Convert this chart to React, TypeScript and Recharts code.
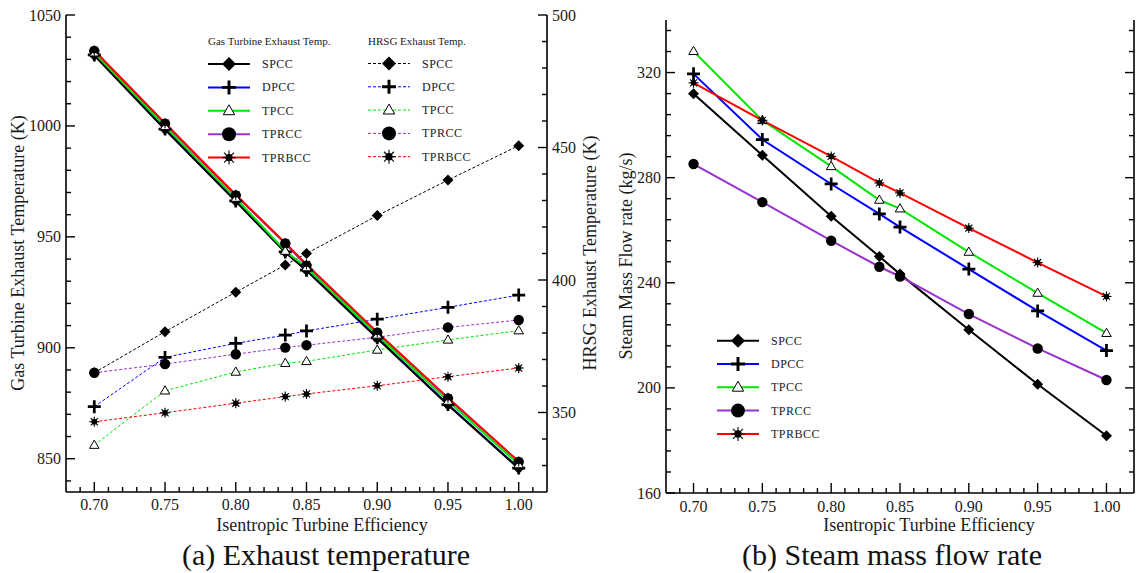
import React from "react";
import { LineChart, Line, XAxis, YAxis, Legend } from "recharts";

// x values (isentropic turbine efficiency)
const efficiency = [0.7, 0.75, 0.8, 0.835, 0.85, 0.9, 0.95, 1.0];

const cycles = ["SPCC", "DPCC", "TPCC", "TPRCC", "TPRBCC"];
const cycleColors = ["#000000", "#0000ff", "#00e600", "#9932cc", "#ff0000"];
const cycleMarkers = ["diamond", "plus", "triangle", "circle", "star"];

// (a) gas turbine exhaust temperature, K (left axis)
const gtSPCC = [1031.8, 998.4, 966.0, 943.0, 934.8, 904.3, 874.2, 845.6];
const gtDPCC = [1032.0, 998.6, 966.2, 943.2, 935.0, 904.5, 874.4, 845.8];
const gtTPCC = [1033.0, 999.8, 967.5, 943.6, 936.2, 905.8, 876.0, 847.4];
const gtTPRCC = [1033.8, 1001.0, 968.7, 947.0, 937.0, 906.8, 877.2, 848.6];
const gtTPRBCC = [1034.0, 1001.2, 969.0, 947.2, 937.6, 907.0, 877.5, 848.8];

// (a) HRSG exhaust temperature, K (right axis)
const hrsgSPCC = [365.0, 380.5, 395.4, 405.7, 410.0, 424.3, 437.7, 450.7];
const hrsgDPCC = [352.2, 370.8, 376.1, 379.2, 380.8, 385.2, 389.7, 394.3];
const hrsgTPCC = [337.7, 358.2, 365.3, 368.6, 369.3, 373.6, 377.4, 380.9];
const hrsgTPRCC = [365.0, 368.3, 372.0, 374.5, 375.4, 378.4, 382.1, 384.9];
const hrsgTPRBCC = [346.5, 349.9, 353.5, 356.0, 357.0, 360.1, 363.5, 366.8];

// (b) steam mass flow rate, kg/s
const steamSPCC = [311.9, 288.5, 265.3, 250.0, 243.3, 222.1, 201.4, 181.8];
const steamDPCC = [319.5, 294.5, 277.6, 266.2, 261.2, 245.2, 229.3, 214.2];
const steamTPCC = [328.1, 301.8, 284.3, 271.5, 268.2, 251.7, 236.1, 220.8];
const steamTPRCC = [285.2, 270.7, 256.0, 246.1, 242.4, 228.1, 215.0, 203.0];
const steamTPRBCC = [316.1, 301.8, 288.1, 278.0, 274.2, 260.8, 247.7, 234.8];

// tick labels
const xMajor = [0.7, 0.75, 0.8, 0.85, 0.9, 0.95, 1.0];
const gtMajor = [850, 900, 950, 1000, 1050];
const hrsgMajor = [350, 400, 450, 500];
const steamMajor = [160, 200, 240, 280, 320];

const range = (from: number, to: number, step: number) => {
  const out: number[] = [];
  for (let v = from; v <= to + 1e-9; v += step) out.push(+v.toFixed(3));
  return out;
};
const xTicks = range(0.69, 1.01, 0.01);
const gtTicks = range(840, 1050, 10);
const hrsgTicks = range(330, 500, 10);
const steamTicks = range(168, 336, 8);

const gtSeries = [gtSPCC, gtDPCC, gtTPCC, gtTPRCC, gtTPRBCC];
const hrsgSeries = [hrsgSPCC, hrsgDPCC, hrsgTPCC, hrsgTPRCC, hrsgTPRBCC];
const steamSeries = [steamSPCC, steamDPCC, steamTPCC, steamTPRCC, steamTPRBCC];

// drawing order for the gas turbine lines (blue / purple sit under the others)
const gtOrder = [1, 3, 0, 2, 4];

const exhaustData = efficiency.map((eff, i) => {
  const row: Record<string, number> = { eff };
  cycles.forEach((c, k) => {
    row[`gt_${c}`] = gtSeries[k][i];
    row[`hrsg_${c}`] = hrsgSeries[k][i];
  });
  return row;
});

const steamData = efficiency.map((eff, i) => {
  const row: Record<string, number> = { eff };
  cycles.forEach((c, k) => {
    row[c] = steamSeries[k][i];
  });
  return row;
});

const FONT = "Liberation Serif, DejaVu Serif, serif";
const TXT = "#1a1a1a";

function Marker({ kind, cx, cy, s }: { kind: string; cx: number; cy: number; s: number }) {
  if (cx == null || cy == null) return null;
  switch (kind) {
    case "diamond":
      return <path d={`M${cx},${cy - s}L${cx + s},${cy}L${cx},${cy + s}L${cx - s},${cy}Z`} fill="#000" />;
    case "plus":
      return (
        <path
          d={`M${cx - s},${cy}H${cx + s}M${cx},${cy - s}V${cy + s}`}
          stroke="#000"
          strokeWidth={s * 0.42}
          fill="none"
        />
      );
    case "triangle":
      return (
        <path
          d={`M${cx},${cy - s}L${cx + s * 0.95},${cy + s * 0.65}L${cx - s * 0.95},${cy + s * 0.65}Z`}
          fill="#fff"
          stroke="#000"
          strokeWidth={1}
        />
      );
    case "circle":
      return <circle cx={cx} cy={cy} r={s} fill="#000" />;
    default: {
      const d = s * 0.707;
      return (
        <g stroke="#000" strokeWidth={1.1}>
          <line x1={cx} y1={cy - s} x2={cx} y2={cy + s} />
          <line x1={cx - s} y1={cy} x2={cx + s} y2={cy} />
          <line x1={cx - d} y1={cy - d} x2={cx + d} y2={cy + d} />
          <line x1={cx - d} y1={cy + d} x2={cx + d} y2={cy - d} />
          <circle cx={cx} cy={cy} r={s * 0.45} fill="#000" />
        </g>
      );
    }
  }
}

const markerSize: Record<string, number> = { diamond: 5.5, plus: 6.5, triangle: 5, circle: 5.2, star: 5 };

const isMajor = (v: number, majors: number[]) => majors.some((m) => Math.abs(m - v) < 1e-6);

const bottomTick = (labelDy: number) => (p: any) => {
  const { x, y, payload } = p;
  const major = isMajor(payload.value, xMajor);
  return (
    <g>
      <line x1={x} y1={y} x2={x} y2={y - (major ? 10 : 5)} stroke="#000" strokeWidth={1.4} />
      {major && (
        <text x={x} y={y + labelDy} textAnchor="middle" fontSize={16} fontFamily={FONT} fill={TXT}>
          {payload.value.toFixed(2)}
        </text>
      )}
    </g>
  );
};

const topTick = (p: any) => {
  const { x, y, payload } = p;
  const major = isMajor(payload.value, xMajor);
  return <line x1={x} y1={y} x2={x} y2={y + (major ? 10 : 5)} stroke="#000" strokeWidth={1.4} />;
};

const leftTick = (majors: number[]) => (p: any) => {
  const { x, y, payload } = p;
  const major = isMajor(payload.value, majors);
  return (
    <g>
      <line x1={x} y1={y} x2={x + (major ? 9 : 5)} y2={y} stroke="#000" strokeWidth={1.4} />
      {major && (
        <text x={x - 5} y={y} dominantBaseline="central" textAnchor="end" fontSize={16} fontFamily={FONT} fill={TXT}>
          {payload.value}
        </text>
      )}
    </g>
  );
};

const rightTick = (majors: number[], showLabels: boolean) => (p: any) => {
  const { x, y, payload } = p;
  const major = isMajor(payload.value, majors);
  return (
    <g>
      <line x1={x} y1={y} x2={x - (major ? 9 : 5)} y2={y} stroke="#000" strokeWidth={1.4} />
      {major && showLabels && (
        <text x={x + 5} y={y} dominantBaseline="central" textAnchor="start" fontSize={16} fontFamily={FONT} fill={TXT}>
          {payload.value}
        </text>
      )}
    </g>
  );
};

const rotatedTitle = (text: string, x: number, y: number) => () => (
  <text
    x={x}
    y={y}
    transform={`rotate(-90 ${x} ${y})`}
    textAnchor="middle"
    dominantBaseline="central"
    fontSize={18}
    fontFamily={FONT}
    fill={TXT}
  >
    {text}
  </text>
);

const bottomTitles = (titleX: number, captionX: number, caption: string) => () => (
  <g fontFamily={FONT} fill={TXT}>
    <text x={titleX} y={531} textAnchor="middle" fontSize={18}>
      Isentropic Turbine Efficiency
    </text>
    <text x={captionX} y={565} textAnchor="middle" fontSize={30} fill="#111">
      {caption}
    </text>
  </g>
);

function LegendBlock({ x, y, title, dashed, step }: { x: number; y: number; title?: string; dashed: boolean; step: number }) {
  return (
    <g fontFamily={FONT} fill={TXT}>
      {title && (
        <text x={x} y={y - 23} fontSize={11} dominantBaseline="central">
          {title}
        </text>
      )}
      {cycles.map((c, i) => {
        const cy = y + i * step;
        return (
          <g key={c}>
            <line
              x1={x}
              y1={cy}
              x2={x + 42}
              y2={cy}
              stroke={cycleColors[i]}
              strokeWidth={dashed ? 1 : 2}
              strokeDasharray={dashed ? "3 2" : undefined}
            />
            <Marker kind={cycleMarkers[i]} cx={x + 21} cy={cy} s={cycleMarkers[i] === "triangle" ? 6 : 7} />
            <text x={x + 54} y={cy} fontSize={12} dominantBaseline="central" letterSpacing={0.5}>
              {c}
            </text>
          </g>
        );
      })}
    </g>
  );
}

function ExhaustChart() {
  return (
    <LineChart width={620} height={573} data={exhaustData} margin={{ top: 15, right: 0, bottom: 0, left: 0 }}>
      <XAxis
        xAxisId="b"
        dataKey="eff"
        type="number"
        domain={[0.68, 1.02]}
        ticks={xTicks}
        interval={0}
        height={81}
        tickSize={0}
        tickMargin={0}
        tickLine={false}
        axisLine={{ stroke: "#000", strokeWidth: 1.6 }}
        tick={bottomTick(18)}
        label={{ content: bottomTitles(322, 326, "(a) Exhaust temperature") }}
      />
      <XAxis
        xAxisId="t"
        dataKey="eff"
        type="number"
        orientation="top"
        domain={[0.68, 1.02]}
        ticks={xTicks}
        interval={0}
        height={0}
        tickSize={0}
        tickMargin={0}
        tickLine={false}
        axisLine={{ stroke: "#000", strokeWidth: 1.6 }}
        tick={topTick}
      />
      <YAxis
        yAxisId="gt"
        type="number"
        domain={[835, 1050]}
        ticks={gtTicks}
        interval={0}
        width={66}
        tickSize={0}
        tickMargin={0}
        tickLine={false}
        allowDataOverflow
        axisLine={{ stroke: "#000", strokeWidth: 1.6 }}
        tick={leftTick(gtMajor)}
        label={{ content: rotatedTitle("Gas Turbine Exhaust Temperature (K)", 18, 253) }}
      />
      <YAxis
        yAxisId="hrsg"
        orientation="right"
        type="number"
        domain={[320, 500]}
        ticks={hrsgTicks}
        interval={0}
        width={73}
        tickSize={0}
        tickMargin={0}
        tickLine={false}
        allowDataOverflow
        axisLine={{ stroke: "#000", strokeWidth: 1.6 }}
        tick={rightTick(hrsgMajor, true)}
        label={{ content: rotatedTitle("HRSG Exhaust Temperature (K)", 590, 253) }}
      />
      <Legend
        verticalAlign="middle"
        layout="horizontal"
        wrapperStyle={{ left: 200, top: 25, width: 330, height: 150 }}
        content={() => (
          <svg width={330} height={150} style={{ overflow: "visible" }}>
            <LegendBlock x={8} y={39} title="Gas Turbine Exhaust Temp." dashed={false} step={23.4} />
            <LegendBlock x={168} y={38.5} title="HRSG Exhaust Temp." dashed step={23.3} />
          </svg>
        )}
      />
      {cycles.map((c, i) => (
        <Line
          key={`hrsg_${c}`}
          xAxisId="b"
          yAxisId="hrsg"
          dataKey={`hrsg_${c}`}
          type="linear"
          stroke={cycleColors[i]}
          strokeWidth={1}
          strokeDasharray="3 2"
          isAnimationActive={false}
          activeDot={false}
          dot={(p: any) => (
            <Marker key={`h${c}${p.index}`} kind={cycleMarkers[i]} cx={p.cx} cy={p.cy} s={markerSize[cycleMarkers[i]]} />
          )}
        />
      ))}
      {gtOrder.map((i) => {
        const c = cycles[i];
        return (
          <Line
            key={`gt_${c}`}
            xAxisId="b"
            yAxisId="gt"
            dataKey={`gt_${c}`}
            type="linear"
            stroke={cycleColors[i]}
            strokeWidth={2}
            isAnimationActive={false}
            activeDot={false}
            dot={(p: any) => (
              <Marker key={`g${c}${p.index}`} kind={cycleMarkers[i]} cx={p.cx} cy={p.cy} s={markerSize[cycleMarkers[i]]} />
            )}
          />
        );
      })}
    </LineChart>
  );
}

function SteamChart() {
  return (
    <LineChart width={527} height={573} data={steamData} margin={{ top: 20, right: 2, bottom: 0, left: 0 }}>
      <XAxis
        xAxisId="b"
        dataKey="eff"
        type="number"
        domain={[0.68, 1.02]}
        ticks={xTicks}
        interval={0}
        height={80}
        tickSize={0}
        tickMargin={0}
        tickLine={false}
        axisLine={{ stroke: "#000", strokeWidth: 1.6 }}
        tick={bottomTick(19)}
        label={{ content: bottomTitles(319, 282, "(b) Steam mass flow rate") }}
      />
      <XAxis
        xAxisId="t"
        dataKey="eff"
        type="number"
        orientation="top"
        domain={[0.68, 1.02]}
        ticks={xTicks}
        interval={0}
        height={0}
        tickSize={0}
        tickMargin={0}
        tickLine={false}
        axisLine={{ stroke: "#000", strokeWidth: 1.6 }}
        tick={topTick}
      />
      <YAxis
        yAxisId="l"
        type="number"
        domain={[160, 340]}
        ticks={[160, ...steamTicks]}
        interval={0}
        width={56}
        tickSize={0}
        tickMargin={0}
        tickLine={false}
        allowDataOverflow
        axisLine={{ stroke: "#000", strokeWidth: 1.6 }}
        tick={leftTick(steamMajor)}
        label={{ content: rotatedTitle("Steam Mass Flow rate (kg/s)", 16, 256) }}
      />
      <YAxis
        yAxisId="r"
        orientation="right"
        type="number"
        domain={[160, 340]}
        ticks={steamTicks}
        interval={0}
        width={1}
        tickSize={0}
        tickMargin={0}
        tickLine={false}
        allowDataOverflow
        axisLine={{ stroke: "#000", strokeWidth: 1.6 }}
        tick={rightTick(steamMajor, false)}
      />
      <Legend
        verticalAlign="middle"
        layout="horizontal"
        wrapperStyle={{ left: 100, top: 320, width: 120, height: 130 }}
        content={() => (
          <svg width={120} height={130} style={{ overflow: "visible" }}>
            <LegendBlock x={7} y={20.7} dashed={false} step={23.3} />
          </svg>
        )}
      />
      {cycles.map((c, i) => (
        <Line
          key={c}
          xAxisId="b"
          yAxisId="l"
          dataKey={c}
          type="linear"
          stroke={cycleColors[i]}
          strokeWidth={2}
          isAnimationActive={false}
          activeDot={false}
          dot={(p: any) => (
            <Marker key={`s${c}${p.index}`} kind={cycleMarkers[i]} cx={p.cx} cy={p.cy} s={markerSize[cycleMarkers[i]]} />
          )}
        />
      ))}
    </LineChart>
  );
}

export default function App() {
  return (
    <div style={{ position: "absolute", left: 0, top: 0, width: 1137, height: 573, background: "#fff", fontFamily: FONT }}>
      <div style={{ position: "absolute", left: 0, top: 0 }}>
        <ExhaustChart />
      </div>
      <div style={{ position: "absolute", left: 610, top: 0 }}>
        <SteamChart />
      </div>
    </div>
  );
}
